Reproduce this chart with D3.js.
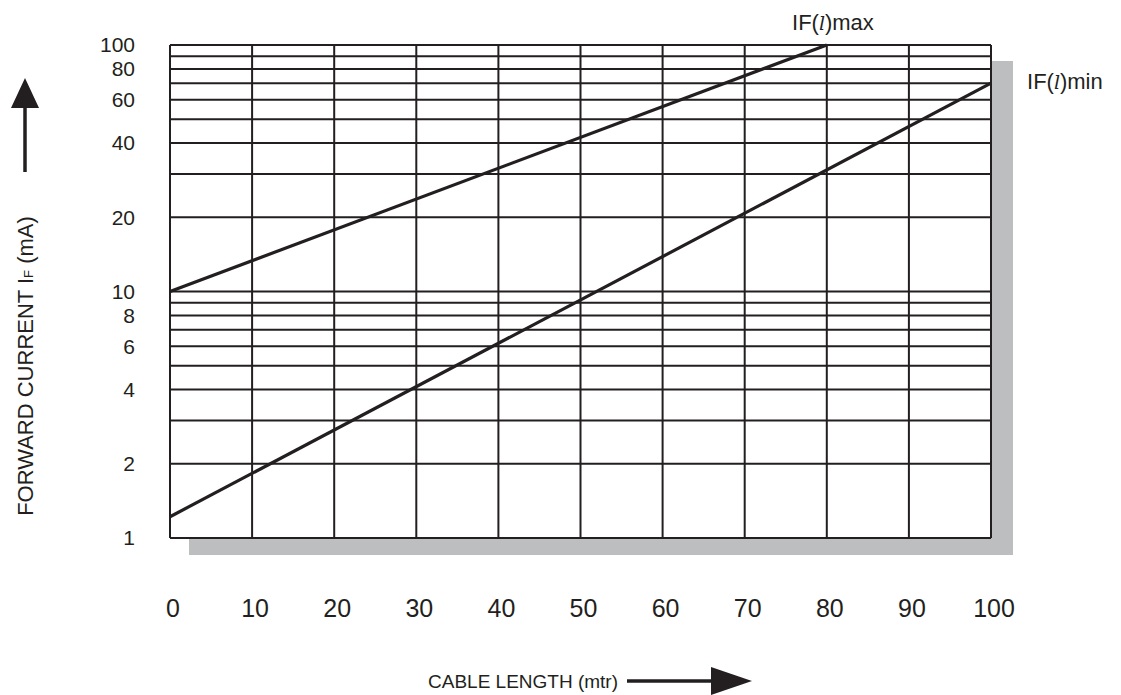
<!DOCTYPE html>
<html><head><meta charset="utf-8">
<script src="https://cdn.jsdelivr.net/npm/d3@7"></script>
<style>body{margin:0;background:#fff}svg{display:block;font-family:"Liberation Sans",Arial,sans-serif}</style>
</head><body><svg id="c" width="1121" height="695"></svg>
<script>
const xTicks = [0,10,20,30,40,50,60,70,80,90,100];
const yGrid = [1,2,3,4,5,6,7,8,9,10,20,30,40,50,60,70,80,90,100];
const yLabels = [1,2,4,6,8,10,20,40,60,80,100];
const maxLength = [0, 80];
const maxCurrent = [10, 100];
const minLength = [0, 100];
const minCurrent = [1.22, 70];

const svg = d3.select("#c");
const L=170,R=991,T=45,B=538;
const x = d3.scaleLinear().domain([0,100]).range([L,R]);
const y = d3.scaleLog().domain([1,100]).range([B,T]);
const ink="#231f20";

// shadow
svg.append("rect").attr("x",L+19).attr("y",T+16).attr("width",R-L+3).attr("height",B-T+1).attr("fill","#bcbec0");
svg.append("rect").attr("x",L).attr("y",T).attr("width",R-L).attr("height",B-T).attr("fill","#fff");

const g = svg.append("g");
g.selectAll("line.h").data(yGrid).join("line")
 .attr("x1",L).attr("x2",R).attr("y1",d=>y(d)).attr("y2",d=>y(d))
 .attr("stroke",ink).attr("stroke-width",2);
g.selectAll("line.v").data(xTicks).join("line")
 .attr("y1",T).attr("y2",B).attr("x1",d=>x(d)).attr("x2",d=>x(d))
 .attr("stroke",ink).attr("stroke-width",2);

// y labels
svg.selectAll("text.yl").data(yLabels).join("text")
 .attr("x",135).attr("y",d=>y(d)).attr("dy","0.35em").attr("text-anchor","end")
 .attr("font-size",21).attr("fill",ink).text(d=>d);
// x labels
svg.selectAll("text.xl").data(xTicks).join("text")
 .attr("x",d=>x(d)+3).attr("y",617).attr("text-anchor","middle")
 .attr("font-size",25).attr("fill",ink).text(d=>d);

// curves
const line = d3.line().x(d=>x(d[0])).y(d=>y(d[1]));
const maxPts = d3.zip(maxLength,maxCurrent), minPts = d3.zip(minLength,minCurrent);
[maxPts,minPts].forEach(p=>svg.append("path").attr("d",line(p)).attr("fill","none").attr("stroke",ink).attr("stroke-width",3.2));

// curve labels
function lab(xp,yp,suffix){
  const t=svg.append("text").attr("x",xp).attr("y",yp).attr("font-size",22).attr("fill",ink);
  t.append("tspan").text("I");
  t.append("tspan").text("F(");
  t.append("tspan").attr("font-style","italic").attr("font-family","'DejaVu Serif',serif").attr("font-size",19).text("l");
  t.append("tspan").text(")"+suffix);
}
lab(792,30,"max");
lab(1027,89,"min");

// y title + arrow
const yt=svg.append("text").attr("transform","translate(33,366) rotate(-90)").attr("text-anchor","middle").attr("font-size",22).attr("fill",ink);
yt.append("tspan").text("FORWARD CURRENT I");
yt.append("tspan").attr("font-size",13).text("F");
yt.append("tspan").text(" (mA)");
svg.append("line").attr("x1",25).attr("x2",25).attr("y1",104).attr("y2",172).attr("stroke",ink).attr("stroke-width",3.5);
svg.append("path").attr("d","M25,78 L11,108 L39,108 Z").attr("fill",ink);

// x title + arrow
svg.append("text").attr("x",428).attr("y",688).attr("font-size",19).attr("fill",ink).text("CABLE LENGTH (mtr)");
svg.append("line").attr("x1",627).attr("x2",716).attr("y1",681).attr("y2",681).attr("stroke",ink).attr("stroke-width",3.5);
svg.append("path").attr("d","M752,681 L711,667 L711,695 Z").attr("fill",ink);
</script></body></html>
